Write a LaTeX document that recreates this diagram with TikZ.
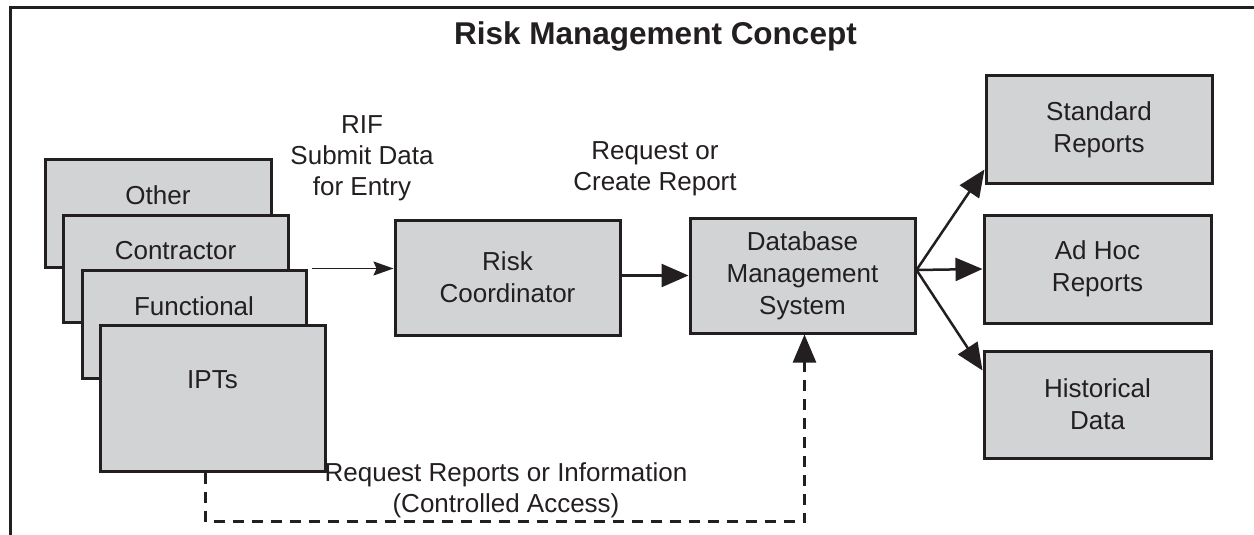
\documentclass[tikz,border=0pt]{standalone}
\usepackage{fontspec}
\setmainfont{Liberation Sans}
\usetikzlibrary{arrows.meta}
\definecolor{ink}{HTML}{231F20}
\definecolor{boxgray}{HTML}{D1D3D4}
\begin{document}
\begin{tikzpicture}[x=1pt,y=-1pt,
  box/.style={draw=ink, fill=boxgray, line width=3pt, inner sep=0pt, align=center,
    font=\fontsize{26}{32}\selectfont, text=ink},
  boxtext/.style={anchor=base, yshift=18pt, inner sep=0pt, text=ink, font=\fontsize{26}{32}\selectfont},
  lbl/.style={align=center, font=\fontsize{26}{31}\selectfont, text=ink, inner sep=0pt},
  bigarrow/.style={draw=ink, line width=2.5pt, -{Triangle[length=27pt,width=23pt]}},
  thinarrow/.style={draw=ink, line width=1.5pt, -{Stealth[length=20pt,width=14pt,inset=3pt]}},
  dasharrow/.style={draw=ink, line width=2.5pt, dash pattern=on 11pt off 8pt, -{Triangle[length=28pt,width=23pt]}}]
\useasboundingbox (0,0) rectangle (1254,535);
% frame
\draw[draw=ink, line width=3pt] (1256,8) -- (10,8) -- (10,537);
% title
\node[font=\bfseries\fontsize{31.5}{36}\selectfont, text=ink, inner sep=0pt, anchor=base] (title) at (655.5,45) {Risk Management Concept};
% stacked source boxes
\node[box, minimum width=226pt, minimum height=108pt,
  label={[boxtext, name=othert]center:Other}] (other) at (158,213) {};
\node[box, minimum width=225pt, minimum height=107pt,
  label={[boxtext, name=contrt]center:Contractor}] (contr) at (175.5,268.5) {};
\node[box, minimum width=224pt, minimum height=108pt,
  label={[boxtext, name=funct]center:Functional}] (func) at (194,324) {};
\node[box, minimum width=225pt, minimum height=146pt,
  label={[boxtext, name=iptst]center:IPTs}] (ipts) at (212.5,398) {};
% main boxes
\node[box, minimum width=225pt, minimum height=115pt] (rc) at (507.5,277.5) {Risk\\Coordinator};
\node[box, minimum width=225pt, minimum height=115pt] (dbms) at (802.5,275.5) {Database\\Management\\System};
\node[box, minimum width=226pt, minimum height=107pt] (std) at (1099,129.5) {Standard\\Reports};
\node[box, minimum width=227pt, minimum height=108pt] (adhoc) at (1097.5,269) {Ad Hoc\\Reports};
\node[box, minimum width=227pt, minimum height=107pt] (hist) at (1097.5,404.5) {Historical\\Data};
% labels
\node[lbl] (rif) at (362,158.5) {RIF\\Submit Data\\for Entry};
\node[lbl] (req) at (655,169) {Request or\\Create Report};
\node[lbl] (acc) at (506,490) {Request Reports or Information\\(Controlled Access)};
% connectors
\coordinate (sub) at ([xshift=4pt]func.north east);
\draw[thinarrow] (sub) -- (sub -| rc.west);
\draw[bigarrow] (rc.east |- dbms.west) -- (dbms.west);
\coordinate (fan) at ([yshift=5.5pt]dbms.east);
\draw[bigarrow] (fan) -- ([yshift=-40pt]std.west);
\draw[bigarrow] (fan) -- (adhoc.west);
\draw[bigarrow] (fan) -- ([yshift=34pt]hist.west);
\coordinate (d1) at ([xshift=-7pt]ipts.south);
\coordinate (d2) at ([yshift=-49pt]d1);
\coordinate (d3) at ([xshift=2pt]dbms.south);
\draw[dasharrow] (d1) -- (d2) -- (d2 -| d3) -- (d3);
\end{tikzpicture}
\end{document}
